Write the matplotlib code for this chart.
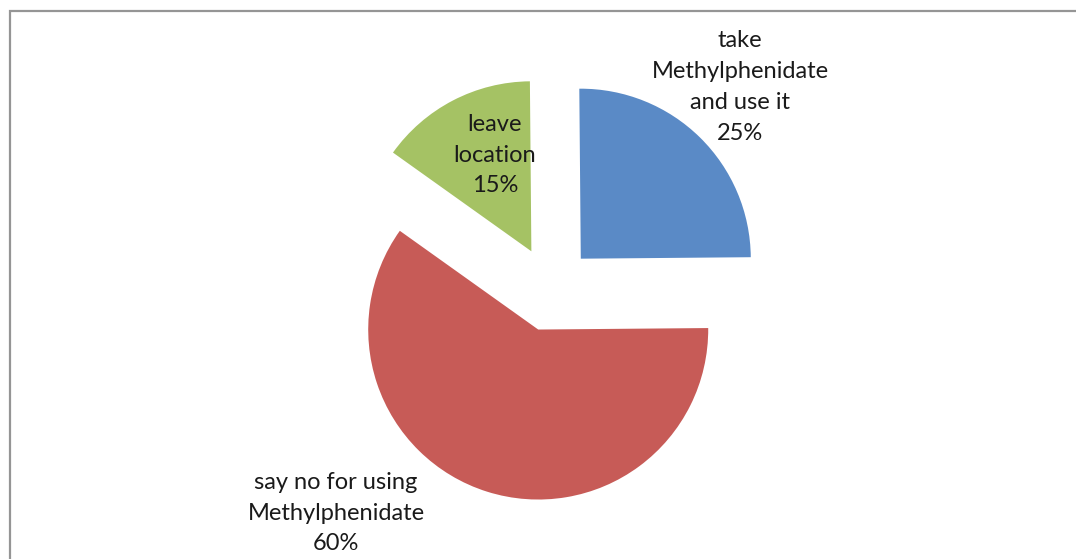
import matplotlib.pyplot as plt
from matplotlib.patches import Rectangle

labels = ['take\nMethylphenidate\nand use it', 'say no for using\nMethylphenidate', 'leave\nlocation']
shares = [25, 60, 15]
colors = ['#5A8AC6', '#C75B57', '#A5C264']

W, H = 1076, 559
cx, cy, r = 551, 289, 170  # pie centre / radius in pixels

fig = plt.figure(figsize=(W / 100, H / 100), dpi=100)
ax = fig.add_axes([0, 0, 1, 1])
ax.axis('off')

wedges, _ = ax.pie(shares, colors=colors, startangle=90.5, counterclock=False,
                   explode=[0.25] * 3, radius=1, center=(0, 0), frame=False)
ax.set_xlim(-cx / r, (W - cx) / r)
ax.set_ylim(-(H - cy) / r, cy / r)
ax.set_aspect('auto')

# label positions (pixel centres)
pos = [(740, 87), (336, 513), (495, 155)]
for lab, s, (px, py) in zip(labels, shares, pos):
    ax.text((px - cx) / r, (cy - py) / r, f'{lab}\n{s}%', ha='center', va='center',
            fontsize=17, family='Lato', color='#1a1a1a', linespacing=1.58)

fig.add_artist(Rectangle((9.5 / W, -0.1), 1.2, (H - 11.5) / H + 0.1, transform=fig.transFigure,
                         fill=False, edgecolor='#959595', linewidth=1.6))
fig.savefig('out.png', dpi=100)
